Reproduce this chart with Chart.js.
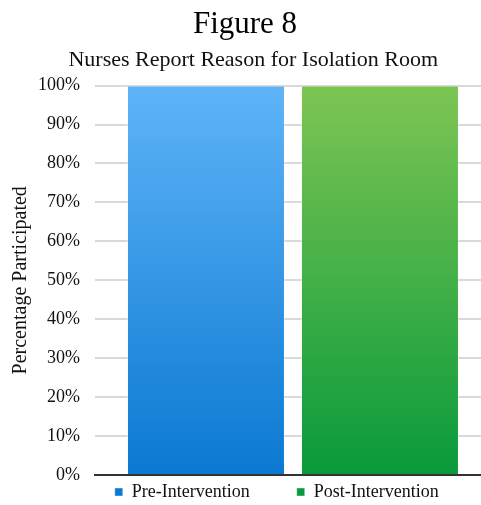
<!DOCTYPE html>
<html lang="en">
<head>
  <meta charset="UTF-8" />
  <title>Figure 8</title>
  <script src="https://cdn.jsdelivr.net/npm/chart.js"></script>
  <style>
    html, body { margin: 0; padding: 0; background: #fff; }
    #wrap { width: 481px; height: 505px; }
  </style>
</head>
<body>
  <div id="wrap"><canvas id="fig8"></canvas></div>
  <script>
    const categories = [''];
    const seriesNames = ['Pre-Intervention', 'Post-Intervention'];
    const preValues = [100];
    const postValues = [100];
    const yTicks = [0, 10, 20, 30, 40, 50, 60, 70, 80, 90, 100];

    const serif = "'Liberation Serif', 'Times New Roman', serif";

    function grad(ctx, top, bottom) {
      const area = ctx.chart.chartArea;
      if (!area) return bottom;
      const g = ctx.chart.ctx.createLinearGradient(0, area.top, 0, area.bottom);
      g.addColorStop(0, top);
      g.addColorStop(1, bottom);
      return g;
    }

    new Chart(document.getElementById('fig8'), {
      type: 'bar',
      data: {
        labels: categories,
        datasets: [{
          label: seriesNames[0],
          data: preValues,
          backgroundColor: c => grad(c, '#5fb4f8', '#0a79d1'),
          borderColor: 'rgba(255,255,255,0.4)',
          borderWidth: 1,
          // group sits slightly right of centre in the original
          categoryPercentage: 0.85,
          barPercentage: 0.963
        }, {
          label: seriesNames[1],
          data: postValues,
          backgroundColor: c => grad(c, '#7dc553', '#089a3b'),
          borderColor: 'rgba(255,255,255,0.4)',
          borderWidth: 1,
          categoryPercentage: 0.953,
          barPercentage: 0.859
        }]
      },
      options: {
        responsive: true,
        maintainAspectRatio: false,
        animation: false,
        layout: { padding: { left: 9, right: 0, top: 6, bottom: -6 } },
        plugins: {
          title: {
            display: true,
            text: 'Figure 8',
            color: '#000',
            font: { family: serif, size: 31, weight: 'normal' },
            padding: { top: 0, bottom: 4 }
          },
          subtitle: {
            display: true,
            text: '\u00a0\u00a0\u00a0Nurses Report Reason for Isolation Room',
            color: '#111',
            font: { family: serif, size: 22 },
            padding: { top: 0, bottom: 12 }
          },
          legend: {
            position: 'bottom',
            fullSize: false,
            labels: {
              color: '#111',
              font: { family: serif, size: 18 },
              boxWidth: 8,
              boxHeight: 8,
              padding: 2,
              // widen the gap between the two entries
              generateLabels: chart => {
                const items = Chart.defaults.plugins.legend.labels.generateLabels(chart);
                items[0].text = items[0].text + '\u00a0'.repeat(10);
                items[1].text = items[1].text + '\u00a0'.repeat(5);
                return items;
              }
            }
          },
          tooltip: { enabled: false }
        },
        scales: {
          x: {
            ticks: { display: false },
            grid: { display: false, drawTicks: false },
            border: { display: true, color: '#333', width: 2 },
            afterFit: s => { s.height = 6; }
          },
          y: {
            min: 0,
            max: 100,
            afterBuildTicks: s => { s.ticks = yTicks.map(v => ({ value: v })); },
            ticks: {
              color: '#111',
              padding: 15,
              font: { family: serif, size: 18 },
              callback: v => v + '%'
            },
            grid: { color: '#d9d9d9', lineWidth: 2, drawTicks: false },
            border: { display: false },
            title: {
              display: true,
              text: 'Percentage Participated',
              color: '#111',
              font: { family: serif, size: 20 },
              padding: { top: 0, bottom: -10 }
            }
          }
        }
      }
    });
  </script>
</body>
</html>
